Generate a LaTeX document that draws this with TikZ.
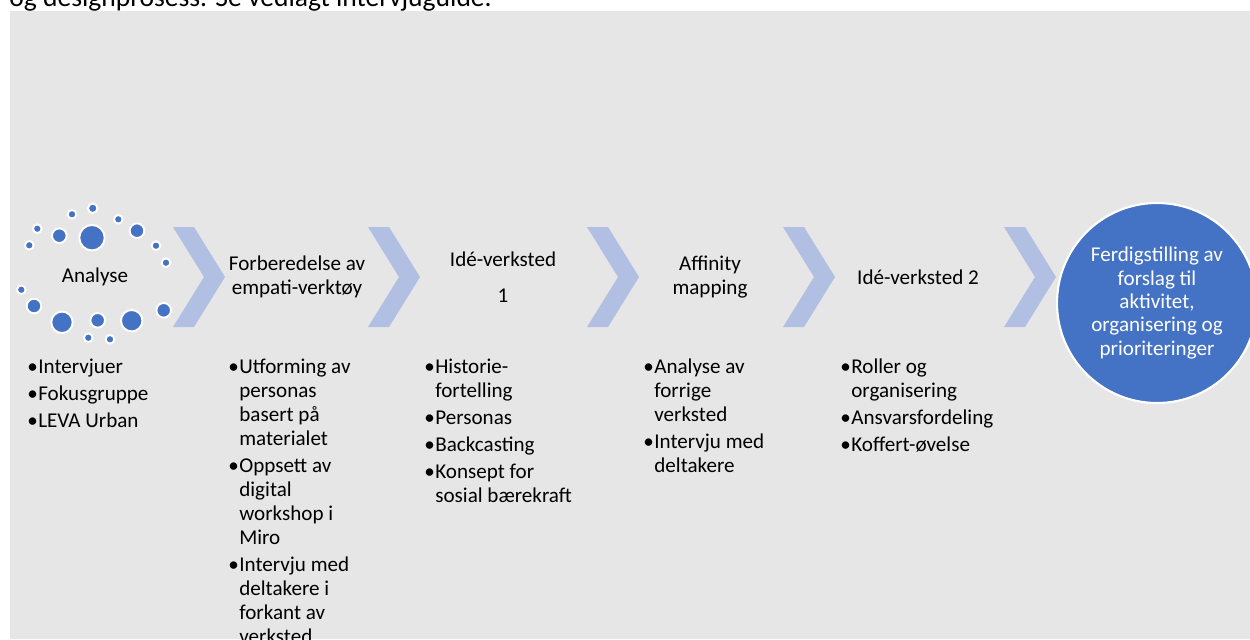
\documentclass[tikz,border=0pt]{standalone}
\usepackage{fontspec}
\setmainfont{Carlito}
\definecolor{panelgray}{HTML}{E6E6E6}
\definecolor{dotblue}{HTML}{4472C4}
\definecolor{chevblue}{HTML}{B0BFE2}
\newcommand{\bpt}{\hangindent=0.22cm\hangafter=1\noindent\makebox[0.22cm][l]{\textbullet}}
\newcommand{\bgap}{\par\vspace{1.7pt}}
\newcommand{\tightspace}{\spaceskip=0.226em\relax}
\tikzset{
  steptext/.style={align=center, inner sep=0pt, font=\fontsize{12pt}{13.3pt}\selectfont},
  bulletlist/.style={anchor=north west, inner sep=0pt, text width=4cm, align=left,
    font=\fontsize{12pt}{13.66pt}\selectfont},
  bubble/.style={fill=dotblue, draw=white, line width=1.1pt},
}
\begin{document}
\begin{tikzpicture}[x=0.02cm, y=-0.02cm]
\useasboundingbox (0,0) rectangle (1250,639);
\fill[white] (0,0) rectangle (1250,639);
\node[anchor=base west, inner sep=0pt, font=\fontsize{15.7pt}{18pt}\selectfont] (intro) at (9,6.5)
  {og designprosess. Se vedlagt intervjuguide.};
\fill[panelgray] (10,11) rectangle (1250,639);
% chevrons between the steps
\foreach \x in {173,368,587,783,1004}
  \fill[chevblue] (\x,227) -- (\x+21,227) -- (\x+52,277) -- (\x+21,327) -- (\x,327) -- (\x+31,277) -- cycle;
% ring of bubbles round the first step
\foreach \cx/\cy/\r in {92.7/208.3/4.7, 72/214.3/4.3, 118.3/219.3/4.3, 37.3/228.7/4.3,
    59.3/235.7/7.3, 92/237.7/12.7, 137/230.7/7.3, 29.3/245.3/4.3, 156/245.7/4.3,
    166/262.7/4.3, 21.3/289.7/4.3, 34/306/7.3, 62/322.3/10.7, 97.7/320.3/7.3,
    131.7/320.7/10.7, 163.7/310.3/7.3, 88.3/337.7/4.3, 110/339.3/4.3}
  \draw[bubble] (\cx,\cy) circle[radius=\r];
% last step
\draw[fill=dotblue, draw=white, line width=1.2pt] (1157,303) circle[radius=100];
\node[steptext, text=white] (final) at (1157,303)
  {Ferdigstilling av\\forslag til\\aktivitet,\\organisering og\\prioriteringer};
% step titles
\node[steptext] (analyse) at (95,277) {Analyse};
\node[steptext] (empati) at (297,277) {Forberedelse av\\empati-verktøy};
\node[steptext] (idea) at (503,277) {Idé-verksted\\[0.24cm]1};
\node[steptext] (affinity) at (710,277) {Affinity\\mapping};
\node[steptext] (ideb) at (918,277) {Idé-verksted 2};
% bullet lists under the steps
\node[bulletlist] (analyselist) at (27,356.2)
  {\tightspace\bpt\strut Intervjuer\bgap \bpt Fokusgruppe\bgap \bpt LEVA Urban\par};
\node[bulletlist] (empatilist) at (228,356.2)
  {\tightspace\bpt\strut Utforming av\newline personas\newline basert på\newline materialet\bgap
   \bpt Oppsett av\newline digital\newline workshop i\newline Miro\bgap
   \bpt Intervju med\newline deltakere i\newline forkant av\newline verksted\par};
\node[bulletlist] (idealist) at (424,356.2)
  {\tightspace\bpt\strut Historie-\newline fortelling\bgap \bpt Personas\bgap \bpt Backcasting\bgap
   \bpt Konsept for\newline sosial bærekraft\par};
\node[bulletlist] (affinitylist) at (643,356.2)
  {\tightspace\bpt\strut Analyse av\newline forrige\newline verksted\bgap \bpt Intervju med\newline deltakere\par};
\node[bulletlist] (ideblist) at (840,356.2)
  {\tightspace\bpt\strut Roller og\newline organisering\bgap \bpt Ansvarsfordeling\bgap \bpt Koffert-øvelse\par};
\end{tikzpicture}
\end{document}
